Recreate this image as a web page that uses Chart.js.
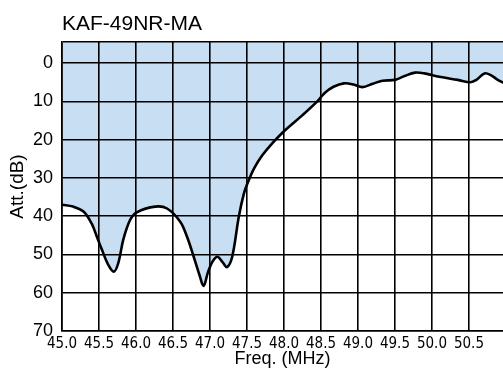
<!DOCTYPE html>
<html>
<head>
<meta charset="utf-8">
<script src="https://cdn.jsdelivr.net/npm/chart.js@4/dist/chart.umd.min.js"></script>
<style>
  html, body { margin: 0; padding: 0; background: #fff; }
  #wrap { width: 503px; height: 371px; }
</style>
</head>
<body>
<div id="wrap"><canvas id="att_chart"></canvas></div>
<script>
// values
var chartTitle = "KAF-49NR-MA";
var freq = [45.0, 45.15, 45.29, 45.4, 45.47, 45.54, 45.62, 45.7, 45.76, 45.83, 45.92, 46.01, 46.26, 46.42, 46.6,
            46.69, 46.78, 46.86, 46.915, 46.97, 47.03, 47.1, 47.17, 47.23, 47.3, 47.39, 47.46, 47.52, 47.6,
            47.7, 47.85, 48.0, 48.25, 48.45, 48.55, 48.67, 48.81, 48.94, 49.06, 49.2, 49.33, 49.5, 49.63,
            49.77, 49.9, 50.1, 50.35, 50.52, 50.6, 50.71, 50.8, 50.89, 50.97];
var att  = [37, 37.5, 38.8, 41.9, 45.3, 48.8, 52.5, 54.5, 52.3, 46, 41, 39, 37.5, 38, 41.5,
            45.4, 50.6, 55.5, 58.2, 54.8, 52, 50.6, 52, 53.3, 50.6, 40.1, 34, 30.8, 27.4,
            24.3, 20.8, 17.8, 13.6, 10, 7.8, 6.2, 5.3, 5.6, 6.3, 5.4, 4.6, 4.4, 3.4,
            2.5, 2.7, 3.6, 4.4, 5, 4.4, 2.7, 3.2, 4.4, 5.2];
var xTicks = [45.0, 45.5, 46.0, 46.5, 47.0, 47.5, 48.0, 48.5, 49.0, 49.5, 50.0, 50.5];
var yTicks = [0, 10, 20, 30, 40, 50, 60, 70];
var yTop = -5.5;

var points = freq.map(function (f, i) { return { x: f, y: att[i] }; });

// title sits over the left edge of the plot, not the canvas
var titlePlugin = {
  id: "plotTitle",
  afterDraw: function (chart) {
    var c = chart.ctx;
    c.save();
    c.font = "21px 'Liberation Sans', Arial, sans-serif";
    c.fillStyle = "#000";
    c.textAlign = "left";
    c.textBaseline = "alphabetic";
    c.fillText(chartTitle, chart.chartArea.left, 30);
    c.restore();
  }
};

var ctx = document.getElementById("att_chart").getContext("2d");
var chart = new Chart(ctx, {
  type: "line",
  data: {
    datasets: [{
      data: points,
      borderColor: "#000",
      borderWidth: 2.6,
      backgroundColor: "rgb(200, 223, 243)",
      fill: { value: yTop },
      tension: 0.35,
      pointRadius: 0,
      pointHoverRadius: 0
    }]
  },
  plugins: [titlePlugin],
  options: {
    responsive: true,
    maintainAspectRatio: false,
    animation: false,
    layout: { padding: { top: 42, right: 0, left: 0, bottom: 0 } },
    plugins: {
      legend: { display: false },
      tooltip: { enabled: false },
      filler: { drawTime: "beforeDraw" }
    },
    scales: {
      x: {
        type: "linear",
        min: 45,
        max: 50.96,
        afterBuildTicks: function (s) { s.ticks = xTicks.map(function (v) { return { value: v }; }); },
        afterFit: function (s) { s.height = 40; },
        ticks: {
          color: "#000",
          padding: 4,
          maxRotation: 0,
          autoSkip: false,
          font: { family: "'Liberation Sans Narrow', 'DejaVu Sans Condensed', sans-serif", size: 15 },
          callback: function (v) { return v.toFixed(1); }
        },
        grid: { color: "#000", lineWidth: 1.6, drawTicks: false },
        border: { color: "#000", width: 1.6 },
        title: {
          display: true,
          text: "Freq. (MHz)",
          color: "#000",
          font: { family: "'Liberation Sans', Arial, sans-serif", size: 18 },
          padding: { top: 0, bottom: 1 }
        }
      },
      y: {
        type: "linear",
        reverse: true,
        min: yTop,
        max: 70,
        afterBuildTicks: function (s) {
          s.ticks = [yTop].concat(yTicks).map(function (v) { return { value: v }; });
        },
        afterFit: function (s) { s.width = 62; },
        ticks: {
          color: "#000",
          padding: 9,
          autoSkip: false,
          font: { family: "'Liberation Sans', Arial, sans-serif", size: 18 },
          callback: function (v) { return v === yTop ? "" : v; }
        },
        grid: { color: "#000", lineWidth: 1.6, drawTicks: false },
        border: { color: "#000", width: 1.6 },
        title: {
          display: true,
          text: "Att.(dB)",
          color: "#000",
          font: { family: "'Liberation Sans', Arial, sans-serif", size: 19 },
          padding: { top: 6, bottom: 0 }
        }
      }
    }
  }
});
</script>
</body>
</html>
